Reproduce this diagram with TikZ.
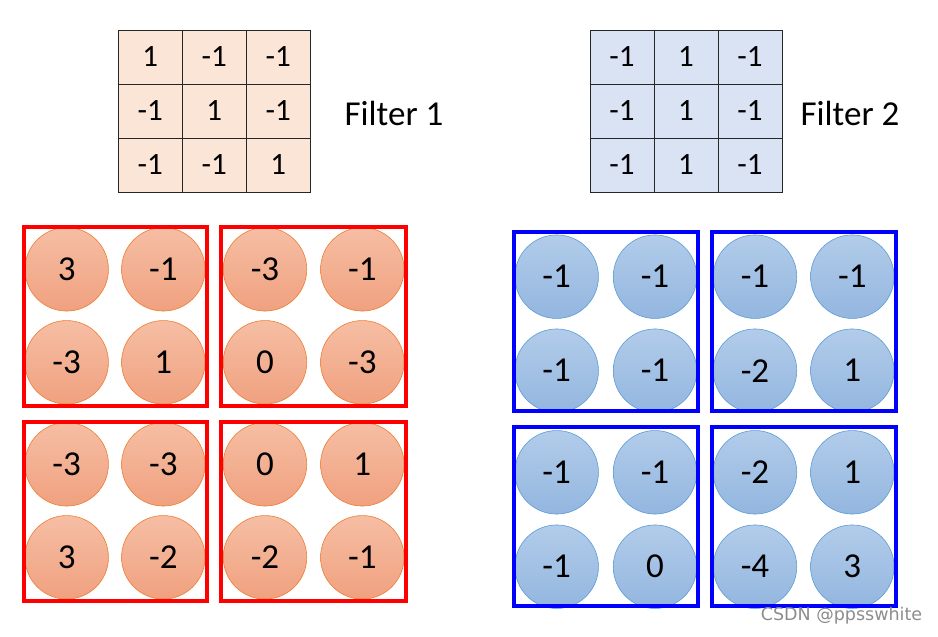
\documentclass[tikz,border=0pt]{standalone}
\usepackage{fontspec}
\setmainfont{Carlito}
\newfontfamily\wmfont{DejaVu Sans}
\definecolor{fonefill}{HTML}{FBE5D6}
\definecolor{ftwofill}{HTML}{DAE3F3}
\definecolor{rtop}{HTML}{F6BEA4}
\definecolor{rbot}{HTML}{F0A17F}
\definecolor{rline}{HTML}{ED7D31}
\definecolor{btop}{HTML}{B2CCEA}
\definecolor{bbot}{HTML}{93B6DF}
\definecolor{bline}{HTML}{5B9BD5}
\definecolor{wmgray}{HTML}{8C8C8C}
\tikzset{
  cellone/.style={draw=black!85, line width=1pt, fill=fonefill, minimum width=64pt, minimum height=54pt, inner sep=0pt, font=\fontsize{31}{34}\selectfont},
  celltwo/.style={cellone, fill=ftwofill},
  flabel/.style={font=\fontsize{35}{38}\selectfont, inner sep=0pt},
  rcirc/.style={circle, draw=rline, line width=0.6pt, top color=rtop, bottom color=rbot, minimum size=83.5pt, inner sep=0pt, font=\fontsize{35}{38}\selectfont},
  bcirc/.style={rcirc, draw=bline, top color=btop, bottom color=bbot},
  redbox/.style={draw=red, line width=4pt},
  bluebox/.style={draw=blue, line width=4pt},
}
\begin{document}
\begin{tikzpicture}[x=1pt,y=-1pt]
\useasboundingbox (0,0) rectangle (938,637);
% Filter 1
\foreach \v [count=\i from 0] in {1,-1,-1,-1,1,-1,-1,-1,1}{
  \pgfmathtruncatemacro{\c}{mod(\i,3)}
  \pgfmathtruncatemacro{\r}{int(\i/3)}
  \node[cellone] (fone-\r-\c) at (150.3+64*\c, 57+54*\r) {\v};
}
\node[flabel] (lone) at (394,113) {Filter 1};
% Filter 2
\foreach \v [count=\i from 0] in {-1,1,-1,-1,1,-1,-1,1,-1}{
  \pgfmathtruncatemacro{\c}{mod(\i,3)}
  \pgfmathtruncatemacro{\r}{int(\i/3)}
  \node[celltwo] (ftwo-\r-\c) at (622+64*\c, 57+54*\r) {\v};
}
\node[flabel] (ltwo) at (850,113) {Filter 2};
% red circles
\node[rcirc] (ra1) at (66.7,269.3) {3};
\node[rcirc] (ra2) at (163.3,269.3) {-1};
\node[rcirc] (ra3) at (265,269.3) {-3};
\node[rcirc] (ra4) at (362.3,269.3) {-1};
\node[rcirc] (rb1) at (66.7,362.3) {-3};
\node[rcirc] (rb2) at (163.3,362.3) {1};
\node[rcirc] (rb3) at (265,362.3) {0};
\node[rcirc] (rb4) at (362.3,362.3) {-3};
\node[rcirc] (rc1) at (66.7,464.3) {-3};
\node[rcirc] (rc2) at (163.3,464.3) {-3};
\node[rcirc] (rc3) at (265,464.3) {0};
\node[rcirc] (rc4) at (362.3,464.3) {1};
\node[rcirc] (rd1) at (66.7,557.3) {3};
\node[rcirc] (rd2) at (163.3,557.3) {-2};
\node[rcirc] (rd3) at (265,557.3) {-2};
\node[rcirc] (rd4) at (362.3,557.3) {-1};
% blue circles
\node[bcirc] (ba1) at (556.7,276.7) {-1};
\node[bcirc] (ba2) at (655,276.7) {-1};
\node[bcirc] (ba3) at (755,276.7) {-1};
\node[bcirc] (ba4) at (852.3,276.7) {-1};
\node[bcirc] (bb1) at (556.7,370.7) {-1};
\node[bcirc] (bb2) at (655,370.7) {-1};
\node[bcirc] (bb3) at (755,370.7) {-2};
\node[bcirc] (bb4) at (852.3,370.7) {1};
\node[bcirc] (bc1) at (556.7,472.3) {-1};
\node[bcirc] (bc2) at (655,472.3) {-1};
\node[bcirc] (bc3) at (755,472.3) {-2};
\node[bcirc] (bc4) at (852.3,472.3) {1};
\node[bcirc] (bd1) at (556.7,566.7) {-1};
\node[bcirc] (bd2) at (655,566.7) {0};
\node[bcirc] (bd3) at (755,566.7) {-4};
\node[bcirc] (bd4) at (852.3,566.7) {3};
% red boxes
\draw[redbox] (23.5,227) rectangle (207,406);
\draw[redbox] (221,227) rectangle (406,406);
\draw[redbox] (23.5,422) rectangle (207,601);
\draw[redbox] (221,422) rectangle (406,601);
% blue boxes
\draw[bluebox] (514,232) rectangle (697.5,411);
\draw[bluebox] (712,232) rectangle (896,411);
\draw[bluebox] (514,427) rectangle (697.5,606);
\draw[bluebox] (712,427) rectangle (896,606);
% watermark
\node[font=\wmfont\fontsize{17.5}{19}\selectfont, text=wmgray, inner sep=0pt] (wm) at (841.5,616) {CSDN @ppsswhite};
\end{tikzpicture}
\end{document}
